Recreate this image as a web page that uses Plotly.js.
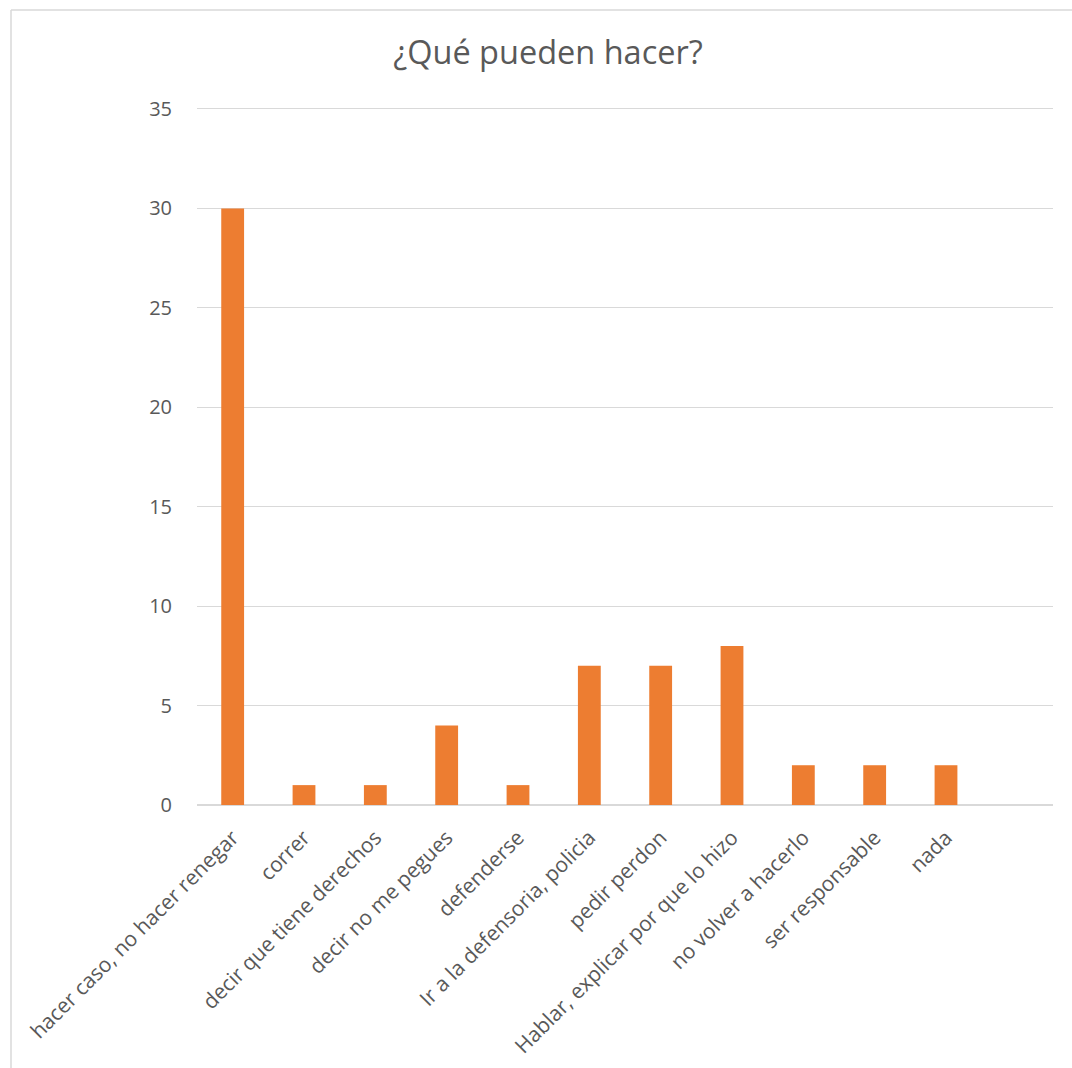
<!DOCTYPE html>
<html>
<head>
<meta charset="utf-8">
<script src="https://cdn.plot.ly/plotly-3.0.1.min.js"></script>
<style>
  html, body { margin: 0; padding: 0; background: #fff; }
  #chart { width: 1072px; height: 1068px; }
</style>
</head>
<body>
<div id="chart"></div>
<script>
const categories = [
  "hacer caso, no hacer renegar",
  "correr",
  "decir que tiene derechos",
  "decir no me pegues",
  "defenderse",
  "Ir a la defensoria, policia",
  "pedir perdon",
  "Hablar, explicar por que lo hizo",
  "no volver a hacerlo",
  "ser responsable",
  "nada"
];
const values = [30, 1, 1, 4, 1, 7, 7, 8, 2, 2, 2];
const titleText = "¿Qué pueden hacer?";
const yTicks = [0, 5, 10, 15, 20, 25, 30, 35];

const W = 1072, H = 1068;
const L = 197, R = 19, T = 105, B = 263;
const pw = W - L - R, ph = H - T - B;
const px = x => (x - L) / pw;
const py = y => (H - B - y) / ph;

const trace = {
  type: 'bar',
  x: categories,
  y: values,
  marker: { color: '#ED7D31' },
  hoverinfo: 'x+y'
};

const layout = {
  width: W, height: H,
  margin: { l: L, r: R, t: T, b: B, pad: 0 },
  paper_bgcolor: '#ffffff',
  plot_bgcolor: '#ffffff',
  font: { family: '"Open Sans", "DejaVu Sans", sans-serif', color: '#595959', size: 20 },
  title: {
    text: titleText,
    font: { size: 32.5, color: '#595959', family: '"Open Sans", sans-serif' },
    x: 548 / W, xref: 'container', xanchor: 'center',
    y: 1 - 53 / H, yref: 'container', yanchor: 'middle'
  },
  bargap: 0.68,
  showlegend: false,
  xaxis: {
    type: 'category',
    range: [-0.5, 11.5],
    tickangle: -45,
    showgrid: false,
    showline: false,
    zeroline: false,
    ticks: 'outside', ticklen: 11, tickcolor: 'rgba(0,0,0,0)',
    tickfont: { size: 21, color: '#595959' },
    fixedrange: true
  },
  yaxis: {
    range: [0, 35.2],
    tickvals: yTicks,
    ticktext: yTicks.map(String),
    showgrid: true,
    gridcolor: '#d9d9d9',
    gridwidth: 1,
    zeroline: true,
    zerolinecolor: '#d9d9d9',
    zerolinewidth: 1.5,
    showline: false,
    ticks: 'outside', ticklen: 20, tickcolor: 'rgba(0,0,0,0)',
    tickfont: { size: 20, color: '#595959' },
    fixedrange: true
  },
  shapes: [
    { type: 'line', xref: 'paper', yref: 'paper', x0: px(11), x1: px(1072), y0: py(10), y1: py(10),
      line: { color: '#d9d9d9', width: 1.5 } },
    { type: 'line', xref: 'paper', yref: 'paper', x0: px(11), x1: px(11), y0: py(10), y1: py(1068),
      line: { color: '#d9d9d9', width: 1.5 } }
  ]
};

Plotly.newPlot('chart', [trace], layout, { displayModeBar: false, staticPlot: true });
</script>
</body>
</html>
